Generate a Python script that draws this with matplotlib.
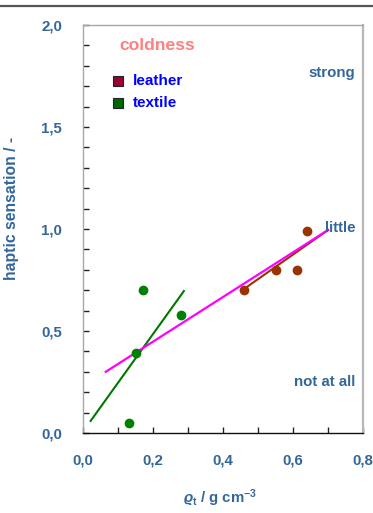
import matplotlib
matplotlib.use("Agg")
import matplotlib.pyplot as plt
from matplotlib.lines import Line2D
from matplotlib.ticker import MultipleLocator, FuncFormatter

plt.rcParams['font.family'] = ['Liberation Sans', 'DejaVu Sans']
plt.rcParams['mathtext.fontset'] = 'custom'
plt.rcParams['mathtext.rm'] = 'Liberation Sans:bold'
plt.rcParams['mathtext.it'] = 'Liberation Sans:italic:bold'
plt.rcParams['mathtext.bf'] = 'Liberation Sans:bold'

# ---- data ----
textile_x = [0.13, 0.15, 0.17, 0.28]
textile_y = [0.05, 0.39, 0.70, 0.58]
leather_x = [0.46, 0.55, 0.61, 0.64]
leather_y = [0.70, 0.80, 0.80, 0.99]

textile_fit_x = [0.02, 0.29]
textile_fit_y = [0.055, 0.70]
leather_fit_x = [0.455, 0.70]
leather_fit_y = [0.70, 0.995]
overall_fit_x = [0.065, 0.70]
overall_fit_y = [0.30, 0.995]

series_labels = ["leather", "textile"]
title = "coldness"
level_labels = ["strong", "little", "not at all"]
xlabel = r"$\varrho_\mathrm{t}$ / g cm$^{-3}$"
ylabel = "haptic sensation / -"

W, H = 373, 513
fig = plt.figure(figsize=(W / 100, H / 100), dpi=100)
ax = fig.add_axes([83 / W, 1 - 433 / H, 280 / W, 408 / H])

blue_gray = "#336699"
green = "#008000"
brown = "#993300"

ax.plot(textile_fit_x, textile_fit_y, color="#007700", lw=1.5, solid_capstyle='butt')
ax.plot(leather_fit_x, leather_fit_y, color=brown, lw=1.5)
ax.plot(overall_fit_x, overall_fit_y, color="#ff00ff", lw=1.6)
ax.plot(textile_x, textile_y, 'o', color=green, ms=6, mec=green)
ax.plot(leather_x, leather_y, 'o', color=brown, ms=6, mec=brown)

ax.set_xlim(0, 0.8)
ax.set_ylim(0, 2.0)
ax.xaxis.set_major_locator(MultipleLocator(0.2))
ax.xaxis.set_minor_locator(MultipleLocator(0.1))
ax.yaxis.set_major_locator(MultipleLocator(0.5))
ax.yaxis.set_minor_locator(MultipleLocator(0.1))
fmt = FuncFormatter(lambda v, p: f"{v:.1f}".replace(".", ","))
ax.xaxis.set_major_formatter(fmt)
ax.yaxis.set_major_formatter(fmt)
ax.tick_params(which='both', direction='in', length=4, width=1, color='#222222',
               top=False, right=False)
ax.tick_params(which='major', labelsize=10.8, labelcolor=blue_gray, pad=15)
for lab in ax.get_xticklabels() + ax.get_yticklabels():
    lab.set_fontweight('bold')

for s in ['top', 'left']:
    ax.spines[s].set_color('#a8a8a8')
    ax.spines[s].set_linewidth(1.0)
ax.spines['right'].set_color('#b8b8b8')
ax.spines['right'].set_linewidth(1.6)
ax.spines['bottom'].set_color('#111111')
ax.spines['bottom'].set_linewidth(1.0)

# title & legend
fig.text(157 / W, 1 - 46 / H, title, color="#ff8080", fontsize=12.6, fontweight='bold',
         ha='center', va='center')
sq_colors = ["#990033", "#006600"]
for i, (lab, c) in enumerate(zip(series_labels, sq_colors)):
    y = 1 - (81 + 22 * i) / H
    fig.add_artist(Line2D([118 / W], [y], marker='s', ms=6.5, mfc=c, mec='#222222',
                          mew=0.8, ls='none', transform=fig.transFigure))
    fig.text(133 / W, y, lab, color="#0000ff", fontsize=11, fontweight='bold',
             ha='left', va='center')

# level annotations
level_y = [73, 228, 382]
for lab, yp in zip(level_labels, level_y):
    fig.text(355 / W, 1 - yp / H, lab, color=blue_gray, fontsize=10.8,
             fontweight='bold', ha='right', va='center')

fig.text(12 / W, 1 - 208 / H, ylabel, color=blue_gray, fontsize=11.3, rotation=90,
         fontweight='bold', ha='center', va='center')
fig.text(220 / W, 1 - 498 / H, xlabel, color=blue_gray, fontsize=10.8,
         fontweight='bold', ha='center', va='center')

# top frame line
fig.add_artist(Line2D([0, 1], [1 - 5.5 / H, 1 - 5.5 / H], color='#555555', lw=1.6,
                      transform=fig.transFigure))

fig.savefig("out.png", dpi=100)
